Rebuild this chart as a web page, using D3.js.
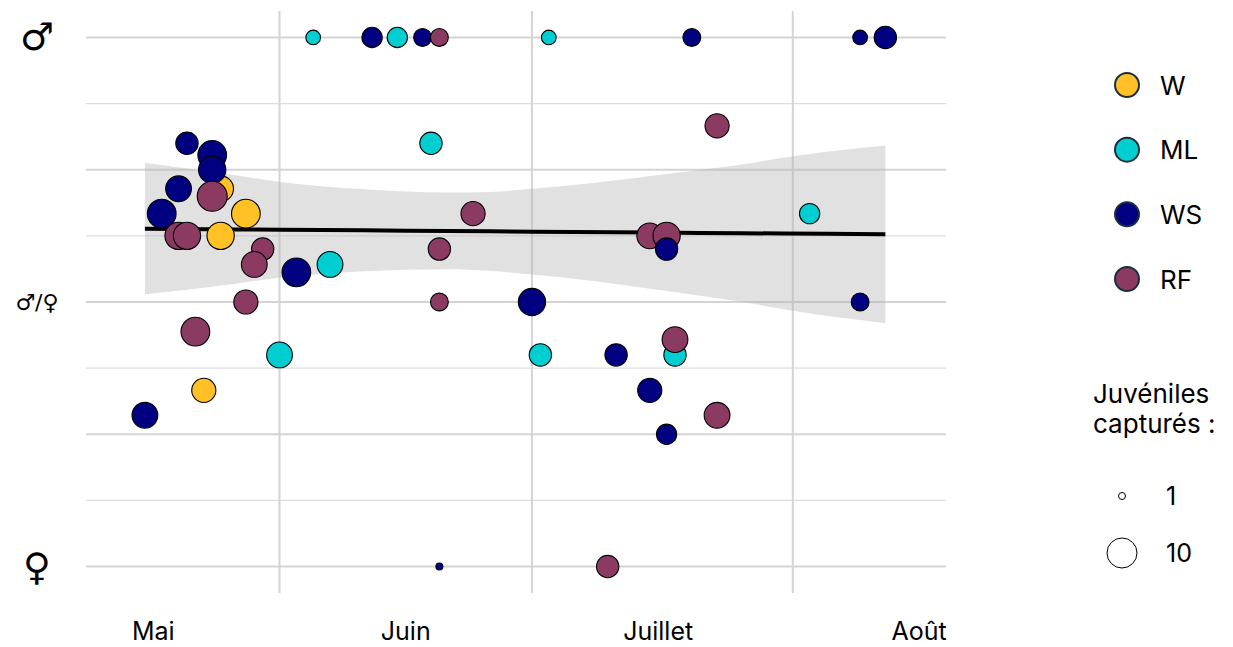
<!DOCTYPE html>
<html><head><meta charset="utf-8">
<script src="https://cdn.jsdelivr.net/npm/d3@7"></script>
<style>
html,body{margin:0;padding:0;background:#fff;}
svg{display:block;font-family:Inter,"Noto Sans",sans-serif;}
</style></head><body>
<svg id="chart" width="1233" height="647"></svg>
<script>
// ---------- data ----------
const sites = ["W", "ML", "WS", "RF"];
const pointDates = ["16/05","18/05","20/05","20/05","21/05","21/05","22/05","23/05","24/05","25/05",
  "24/05","24/05","25/05","28/05","28/05","30/05","29/05","01/06","03/06","07/06",
  "05/06","12/06","15/06","18/06","20/06","19/06","20/06","20/06","20/06","24/06",
  "01/07","02/07","03/07","10/07","11/07","15/07","15/07","17/07","17/07","17/07",
  "18/07","18/07","20/07","23/07","23/07","03/08","09/08","09/08","12/08"];
const pointSites = ["WS","WS","WS","RF","WS","RF","RF","W","WS","W",
  "WS","RF","W","W","RF","RF","RF","ML","WS","ML",
  "ML","WS","ML","WS","RF","ML","RF","RF","WS","RF",
  "WS","ML","ML","RF","WS","RF","WS","RF","WS","WS",
  "ML","RF","WS","RF","RF","ML","WS","WS","WS"];
const pointRatios = [0.286,0.667,0.714,0.625,0.8,0.625,0.444,0.333,0.778,0.714,
  0.75,0.7,0.625,0.667,0.5,0.6,0.571,0.4,0.556,0.571,
  1,1,1,1,1,0.8,0.6,0.5,0,0.667,
  0.5,0.4,1,0,0.4,0.625,0.333,0.625,0.6,0.25,
  0.4,0.429,1,0.833,0.286,0.667,1,0.5,1];
const pointJuveniles = [7,9,7,8,5,8,9,6,9,7,
  8,10,8,9,6,5,7,7,9,7,
  2,4,4,3,3,5,5,3,1,6,
  8,5,2,5,5,7,6,8,5,4,
  5,7,3,6,7,4,2,3,5];

// fitted linear trend and its confidence band
const fitDates = ["16/05","27/05","01/06","06/06","11/06","16/06","21/06","26/06","01/07",
  "06/07","11/07","16/07","21/07","26/07","31/07","05/08","12/08"];
const fitRatio = [0.6385,0.6372,0.6366,0.6360,0.6354,0.6348,0.6342,0.6336,0.6330,
  0.6324,0.6318,0.6312,0.6305,0.6300,0.6294,0.6288,0.6279];
const fitLower = [0.514,0.535,0.546,0.553,0.558,0.561,0.562,0.559,0.552,
  0.544,0.534,0.523,0.512,0.500,0.486,0.474,0.460];
const fitUpper = [0.763,0.739,0.727,0.719,0.713,0.709,0.707,0.708,0.714,
  0.721,0.730,0.740,0.750,0.760,0.773,0.784,0.796];

const xTickDates = ["17/05","16/06","16/07","16/08"];
const xTickLabels = ["Mai","Juin","Juillet","Août"];
const xGridDates = ["01/06","01/07","01/08"];
const yTickValues = [0, 0.5, 1];
const yTickLabels = ["\u2640", "\u2642/\u2640", "\u2642"];
const sizeLegendValues = [1, 10];
const sizeLegendTitle = ["Juvéniles", "capturés :"];

// ---------- styles ----------
const siteColors = {W: "#FFC125", ML: "#00CED1", WS: "#000080", RF: "#8B3A62"};

// ---------- drawing ----------
const parse = d3.utcParse("%d/%m");
const svg = d3.select("#chart");

const x = d3.scaleUtc()
  .domain([new Date(Date.UTC(1900, 4, 9)), new Date(Date.UTC(1900, 7, 19, 5))])
  .range([86, 946]);
const y = d3.scaleLinear().domain([-0.05, 1.05]).range([593, 11]);
const r = d3.scaleSqrt().domain([0, 9]).range([3.5, 15]);
const radius = n => r(n - 1);

const [x0, x1] = x.range();
const [yb, yt] = y.range();

// horizontal grid
const gy = svg.append("g");
gy.selectAll("line").data(d3.range(0, 1.0001, 0.125)).join("line")
  .attr("x1", x0).attr("x2", x1)
  .attr("y1", d => y(d)).attr("y2", d => y(d))
  .attr("stroke", d => (Math.round(d * 8) % 2 === 0) ? "#d4d4d4" : "#dedede")
  .attr("stroke-width", d => (Math.round(d * 8) % 2 === 0) ? 2 : 1.3);
// vertical grid
svg.append("g").selectAll("line").data(xGridDates.map(parse)).join("line")
  .attr("x1", d => x(d)).attr("x2", d => x(d))
  .attr("y1", yt).attr("y2", yb)
  .attr("stroke", "#d4d4d4").attr("stroke-width", 2);

// confidence band
const fit = fitDates.map((d, i) => ({date: parse(d), y: fitRatio[i], lo: fitLower[i], hi: fitUpper[i]}));
svg.append("path").datum(fit)
  .attr("d", d3.area().x(d => x(d.date)).y0(d => y(d.lo)).y1(d => y(d.hi)).curve(d3.curveMonotoneX))
  .attr("fill", "#b3b3b3").attr("fill-opacity", 0.4);
svg.append("path").datum(fit)
  .attr("d", d3.line().x(d => x(d.date)).y(d => y(d.y)))
  .attr("fill", "none").attr("stroke", "#000").attr("stroke-width", 4);

// points
const pts = pointDates.map((d, i) => ({date: parse(d), site: pointSites[i], p: pointRatios[i], n: pointJuveniles[i]}));
svg.append("g").selectAll("circle").data(pts).join("circle")
  .attr("cx", d => x(d.date)).attr("cy", d => y(d.p)).attr("r", d => radius(d.n))
  .attr("fill", d => siteColors[d.site]).attr("stroke", "#000").attr("stroke-width", 1.1);

// y labels
svg.append("g").selectAll("text").data(yTickValues).join("text")
  .attr("x", 37).attr("y", d => y(d))
  .attr("text-anchor", "middle").attr("dominant-baseline", "central")
  .style("font-family", "'DejaVu Sans', sans-serif")
  .style("font-size", (d, i) => d === 0.5 ? "22px" : "38px")
  .attr("fill", "#000")
  .text((d, i) => yTickLabels[i]);

// x labels
svg.append("g").selectAll("text").data(xTickDates.map(parse)).join("text")
  .attr("x", d => x(d)).attr("y", 640)
  .attr("text-anchor", "middle")
  .style("font-size", "25px").attr("fill", "#000")
  .text((d, i) => xTickLabels[i]);

// colour legend
const lg = svg.append("g");
const legY = d3.scalePoint().domain(sites).range([85, 279]);
lg.selectAll("circle").data(sites).join("circle")
  .attr("cx", 1127).attr("cy", d => legY(d)).attr("r", 12)
  .attr("fill", d => siteColors[d]).attr("stroke", "#1b2e3c").attr("stroke-width", 2);
lg.selectAll("text").data(sites).join("text")
  .attr("x", 1160).attr("y", d => legY(d)).attr("dominant-baseline", "central")
  .style("font-size", "26px").attr("fill", "#000").text(d => d);

// size legend
const sg = svg.append("g");
sg.selectAll("text.t").data(sizeLegendTitle).join("text").attr("class", "t")
  .attr("x", 1093).attr("y", (d, i) => 403 + i * 30)
  .style("font-size", "26px").attr("fill", "#000").text(d => d);
const sizeY = d3.scalePoint().domain(sizeLegendValues).range([496, 553]);
sg.selectAll("circle").data(sizeLegendValues).join("circle")
  .attr("cx", 1122).attr("cy", d => sizeY(d)).attr("r", d => radius(d))
  .attr("fill", "#fff").attr("stroke", "#000").attr("stroke-width", 1);
sg.selectAll("text.v").data(sizeLegendValues).join("text").attr("class", "v")
  .attr("x", 1166).attr("y", d => sizeY(d)).attr("dominant-baseline", "central")
  .style("font-size", "25px").attr("fill", "#000").text(d => d);
</script>
</body></html>
